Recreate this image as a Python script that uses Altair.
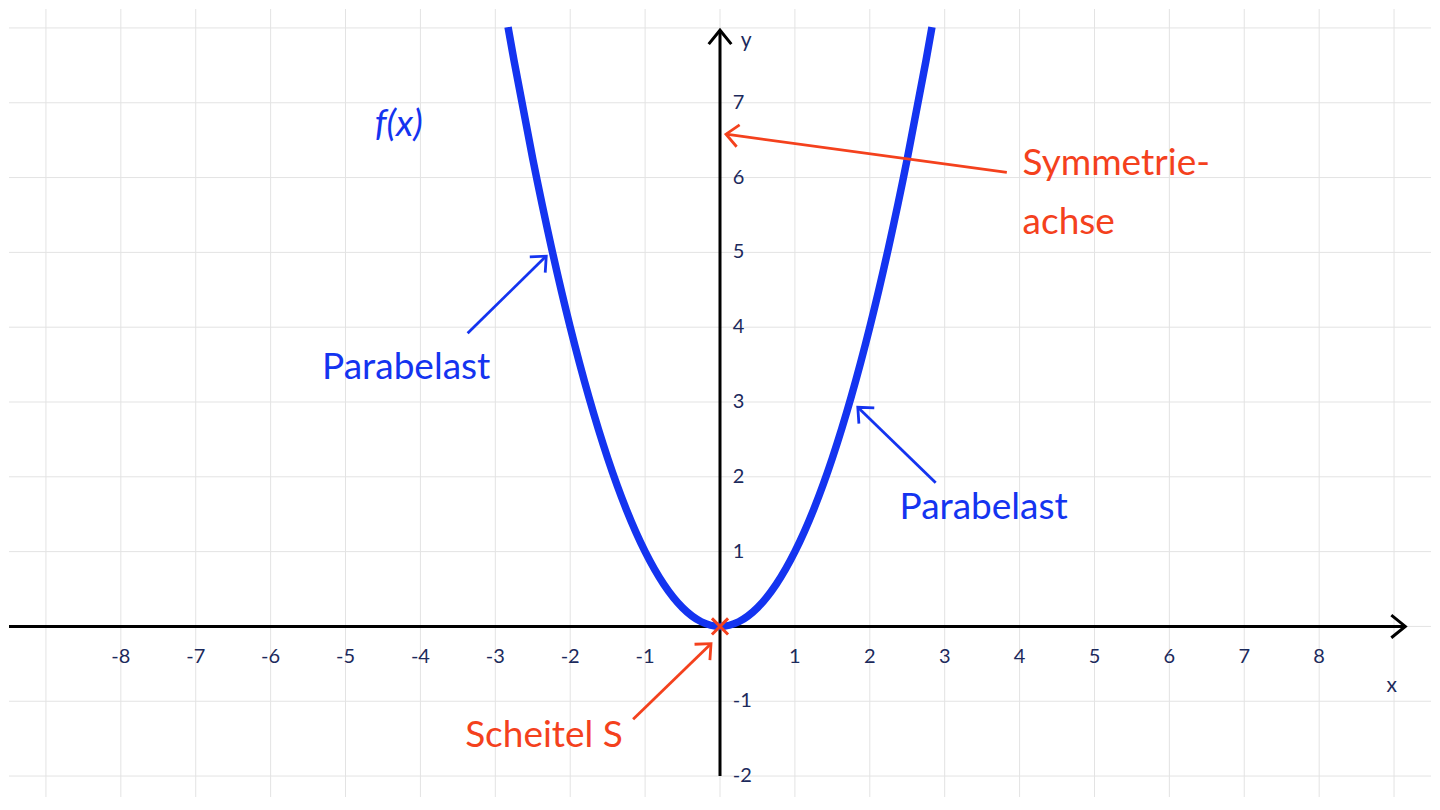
import math
import altair as alt
import pandas as pd

# ---------------- data ----------------
# parabola f(x) = x^2
curve_x = [-2.83, -2.75, -2.5, -2.25, -2.0, -1.75, -1.5, -1.25, -1.0, -0.75, -0.5, -0.25, 0.0,
           0.25, 0.5, 0.75, 1.0, 1.25, 1.5, 1.75, 2.0, 2.25, 2.5, 2.75, 2.83]
curve_y = [8.01, 7.5625, 6.25, 5.0625, 4.0, 3.0625, 2.25, 1.5625, 1.0, 0.5625, 0.25, 0.0625, 0.0,
           0.0625, 0.25, 0.5625, 1.0, 1.5625, 2.25, 3.0625, 4.0, 5.0625, 6.25, 7.5625, 8.01]

x_tick_values = [-8, -7, -6, -5, -4, -3, -2, -1, 1, 2, 3, 4, 5, 6, 7, 8]
y_tick_values = [-2, -1, 1, 2, 3, 4, 5, 6, 7]
grid_x = list(range(-9, 10))
grid_y = list(range(-2, 9))

# coordinate axes (start, tip)
axis_name = ["xaxis", "yaxis"]
axis_tail_x = [-9.8, 0.0]
axis_tail_y = [0.0, -2.0]
axis_tip_x = [9.15, 0.0]
axis_tip_y = [0.0, 7.97]

# annotation arrows
arrow_name = ["sym", "left", "right", "scheitel"]
arrow_color = ["red", "blue", "blue", "red"]
arrow_tail_x = [3.83, -3.37, 2.88, -1.16]
arrow_tail_y = [6.07, 3.92, 1.92, -1.24]
arrow_tip_x = [0.08, -2.32, 1.84, -0.12]
arrow_tip_y = [6.58, 4.95, 2.93, -0.23]

# labels
label_text = ["f(x)", "Parabelast", "Parabelast", "Symmetrie-", "achse", "Scheitel S"]
label_x = [-4.29, -4.19, 3.52, 4.04, 4.04, -2.35]
label_y = [6.56, 3.31, 1.44, 6.04, 5.25, -1.61]
label_color = ["blue", "blue", "blue", "red", "red", "red"]
label_align = ["center", "center", "center", "left", "left", "center"]
label_style = ["italic", "normal", "normal", "normal", "normal", "normal"]

BLUE = "#1434f0"
RED = "#f4411d"
NAVY = "#1c2a5c"
FONT = "Lato"

XMIN, XMAX = -9.4933, 9.4933
YMIN, YMAX = -2.28, 8.2533

xs = alt.Scale(domain=[XMIN, XMAX], nice=False, zero=False)
ys = alt.Scale(domain=[YMIN, YMAX], nice=False, zero=False)


def arrow_rows(names, tx, ty, px, py, arm, ang_deg):
    rows = []
    for i, n in enumerate(names):
        rows.append({"seg": n + "_shaft", "o": 0, "x": tx[i], "y": ty[i], "name": n})
        rows.append({"seg": n + "_shaft", "o": 1, "x": px[i], "y": py[i], "name": n})
        dx, dy = tx[i] - px[i], ty[i] - py[i]
        ln = math.hypot(dx, dy)
        dx, dy = dx / ln, dy / ln
        a = math.radians(ang_deg)
        pts = []
        for s in (1, -1):
            c, si = math.cos(s * a), math.sin(s * a)
            pts.append((px[i] + arm * (dx * c - dy * si), py[i] + arm * (dx * si + dy * c)))
        rows.append({"seg": n + "_head", "o": 0, "x": pts[0][0], "y": pts[0][1], "name": n})
        rows.append({"seg": n + "_head", "o": 1, "x": px[i], "y": py[i], "name": n})
        rows.append({"seg": n + "_head", "o": 2, "x": pts[1][0], "y": pts[1][1], "name": n})
    return rows


curve_df = pd.DataFrame({"x": curve_x, "y": curve_y})
axes_df = pd.DataFrame(arrow_rows(axis_name, axis_tail_x, axis_tail_y, axis_tip_x, axis_tip_y, 0.24, 39))
arr_df = pd.DataFrame(arrow_rows(arrow_name, arrow_tail_x, arrow_tail_y, arrow_tip_x, arrow_tip_y, 0.22, 42))
cmap = dict(zip(arrow_name, arrow_color))
arr_df["c"] = arr_df["name"].map(cmap)

xt_df = pd.DataFrame({"x": x_tick_values, "y": [-0.41] * len(x_tick_values), "t": [str(v) for v in x_tick_values]})
yt_df = pd.DataFrame({"x": [0.17] * len(y_tick_values), "y": y_tick_values, "t": [str(v) for v in y_tick_values]})
axl_df = pd.DataFrame({"x": [8.97, 0.35], "y": [-0.79, 7.83], "t": ["x", "y"]})
lab_df = pd.DataFrame({"t": label_text, "x": label_x, "y": label_y, "c": label_color,
                       "al": label_align, "st": label_style})
origin_df = pd.DataFrame({"x": [0.0], "y": [0.0]})
gx_df = pd.DataFrame({"x": grid_x})
gy_df = pd.DataFrame({"y": grid_y})

color_scale = alt.Scale(domain=["blue", "red"], range=[BLUE, RED])
GRID = "#e3e3e3"

grid_v = alt.Chart(gx_df).mark_rule(color=GRID, strokeWidth=1).encode(
    x=alt.X("x:Q", scale=xs, axis=None))
grid_h = alt.Chart(gy_df).mark_rule(color=GRID, strokeWidth=1).encode(
    y=alt.Y("y:Q", scale=ys, axis=None))

axes_lines = alt.Chart(axes_df).mark_line(color="black", strokeWidth=3, clip=True, strokeCap="butt").encode(
    x=alt.X("x:Q", scale=xs, axis=None), y=alt.Y("y:Q", scale=ys, axis=None),
    detail="seg:N", order="o:Q")

curve = alt.Chart(curve_df).mark_line(color=BLUE, strokeWidth=7.5, interpolate="monotone", clip=True).encode(
    x=alt.X("x:Q", scale=xs, axis=None), y=alt.Y("y:Q", scale=ys, axis=None))

arrows = alt.Chart(arr_df).mark_line(strokeWidth=2.8).encode(
    x=alt.X("x:Q", scale=xs, axis=None), y=alt.Y("y:Q", scale=ys, axis=None),
    detail="seg:N", order="o:Q", color=alt.Color("c:N", scale=color_scale, legend=None))

origin = alt.Chart(origin_df).mark_point(shape="M-1,-1L1,1M1,-1L-1,1", size=260, filled=False,
                                         color=RED, strokeWidth=3, opacity=1).encode(
    x=alt.X("x:Q", scale=xs, axis=None), y=alt.Y("y:Q", scale=ys, axis=None))

xticks = alt.Chart(xt_df).mark_text(font=FONT, fontSize=20, color=NAVY, align="center", baseline="middle").encode(
    x=alt.X("x:Q", scale=xs, axis=None), y=alt.Y("y:Q", scale=ys, axis=None), text="t:N")

yticks = alt.Chart(yt_df).mark_text(font=FONT, fontSize=20, color=NAVY, align="left", baseline="middle").encode(
    x=alt.X("x:Q", scale=xs, axis=None), y=alt.Y("y:Q", scale=ys, axis=None), text="t:N")

axlabels = alt.Chart(axl_df).mark_text(font=FONT, fontSize=21, color=NAVY, align="center", baseline="middle").encode(
    x=alt.X("x:Q", scale=xs, axis=None), y=alt.Y("y:Q", scale=ys, axis=None), text="t:N")

layers = [grid_v, grid_h, axes_lines, curve, arrows, origin, xticks, yticks, axlabels]
for al in ["left", "center"]:
    for st in ["normal", "italic"]:
        sub = lab_df[(lab_df["al"] == al) & (lab_df["st"] == st)]
        if len(sub) == 0:
            continue
        layers.append(
            alt.Chart(sub).mark_text(font=FONT, fontSize=37, align=al, baseline="alphabetic", fontStyle=st).encode(
                x=alt.X("x:Q", scale=xs, axis=None), y=alt.Y("y:Q", scale=ys, axis=None), text="t:N",
                color=alt.Color("c:N", scale=color_scale, legend=None)))

chart = alt.layer(*layers).properties(
    width=1424, height=790, padding=0,
    autosize=alt.AutoSizeParams(type="fit", contains="padding"),
    background="white",
).configure_view(stroke=None)

chart.save("out.html", embed_options={"renderer": "svg", "actions": False})
